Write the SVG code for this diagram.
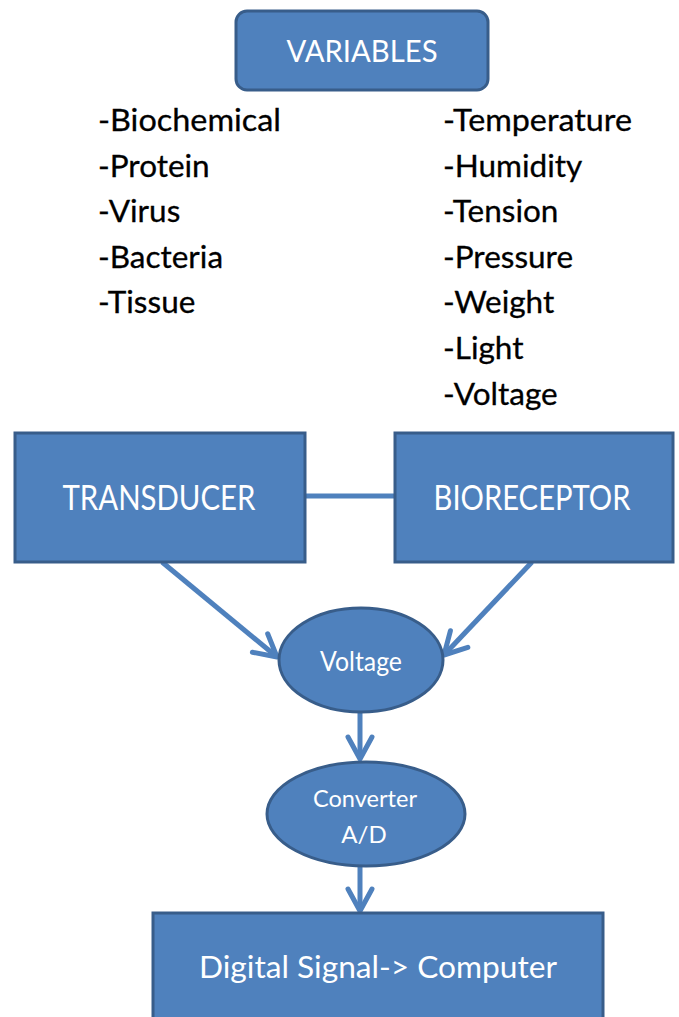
<svg xmlns="http://www.w3.org/2000/svg" width="679" height="1017" viewBox="0 0 679 1017">
<style>
.node{fill:#4F81BD;stroke:#385D8A;stroke-width:3}
.lbl{font-family:Lato,"Open Sans","Liberation Sans",sans-serif;fill:#FFFFFF;text-anchor:middle}
.item{font-family:Lato,"Open Sans","Liberation Sans",sans-serif;fill:#000000;font-size:31.5px;stroke:#000000;stroke-width:0.3}
.conn{stroke:#4F81BD;stroke-width:5;fill:none}
</style>
<defs>
<marker id="arr" markerUnits="userSpaceOnUse" markerWidth="40" markerHeight="40" viewBox="-30 -20 40 40" refX="0" refY="0" orient="auto">
<path d="M -22 -12 L 0 0 L -22 12" fill="none" stroke="#4F81BD" stroke-width="5" stroke-linecap="round" stroke-linejoin="round"/>
</marker>
</defs>
<rect width="679" height="1017" fill="#FFFFFF"/>
<g id="connectors">
<line class="conn" x1="305" y1="496" x2="395" y2="496"/>
<line class="conn" x1="162" y1="562" x2="277" y2="657" marker-end="url(#arr)"/>
<line class="conn" x1="532" y1="562" x2="444" y2="655" marker-end="url(#arr)"/>
<line class="conn" x1="360" y1="712" x2="360" y2="759" marker-end="url(#arr)"/>
<line class="conn" x1="360" y1="867" x2="360" y2="911" marker-end="url(#arr)"/>
</g>
<g id="variables">
<rect class="node" x="236" y="11" width="252" height="79" rx="11"/>
<text class="lbl" x="362" y="62" font-size="31" textLength="151" lengthAdjust="spacingAndGlyphs">VARIABLES</text>
</g>
<g id="list-left">
<text class="item" x="98" y="131" textLength="183" lengthAdjust="spacingAndGlyphs">-Biochemical</text>
<text class="item" x="98" y="177">-Protein</text>
<text class="item" x="98" y="222">-Virus</text>
<text class="item" x="98" y="268">-Bacteria</text>
<text class="item" x="98" y="313">-Tissue</text>
</g>
<g id="list-right">
<text class="item" x="443" y="131" textLength="189" lengthAdjust="spacingAndGlyphs">-Temperature</text>
<text class="item" x="443" y="177">-Humidity</text>
<text class="item" x="443" y="222">-Tension</text>
<text class="item" x="443" y="268">-Pressure</text>
<text class="item" x="443" y="313">-Weight</text>
<text class="item" x="443" y="359">-Light</text>
<text class="item" x="443" y="405">-Voltage</text>
</g>
<g id="transducer">
<rect class="node" x="15" y="433" width="290" height="129"/>
<text class="lbl" x="159" y="510" font-size="35" textLength="193" lengthAdjust="spacingAndGlyphs">TRANSDUCER</text>
</g>
<g id="bioreceptor">
<rect class="node" x="395" y="433" width="278" height="129"/>
<text class="lbl" x="532" y="510" font-size="35" textLength="197" lengthAdjust="spacingAndGlyphs">BIORECEPTOR</text>
</g>
<g id="voltage">
<ellipse class="node" cx="361" cy="660" rx="82" ry="52"/>
<text class="lbl" x="361" y="671" font-size="27" textLength="82" lengthAdjust="spacingAndGlyphs">Voltage</text>
</g>
<g id="converter">
<ellipse class="node" cx="366" cy="814" rx="99" ry="52"/>
<text class="lbl" x="365" y="807" font-size="24" textLength="104" lengthAdjust="spacingAndGlyphs">Converter</text>
<text class="lbl" x="364" y="843" font-size="24">A/D</text>
</g>
<g id="digital">
<rect class="node" x="153" y="913" width="450" height="115"/>
<text class="lbl" x="378" y="978" font-size="30" textLength="358" lengthAdjust="spacingAndGlyphs">Digital Signal-&gt; Computer</text>
</g>
</svg>
